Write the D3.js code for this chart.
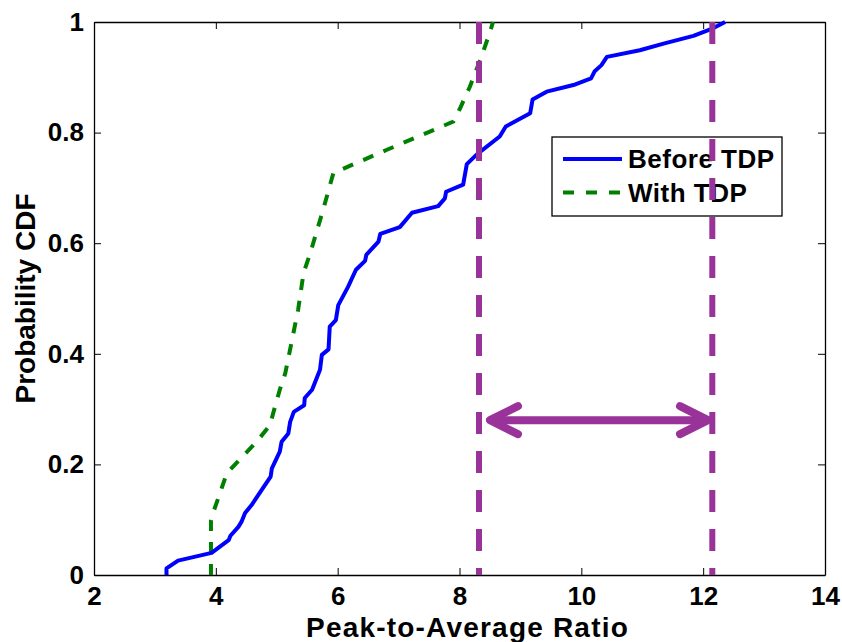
<!DOCTYPE html>
<html>
<head>
<meta charset="utf-8">
<script src="https://cdn.jsdelivr.net/npm/d3@7"></script>
<style>
  body { margin: 0; background: #fff; }
  text { font-family: "Liberation Sans", Arial, Helvetica, sans-serif; font-weight: bold; }
</style>
</head>
<body>
<div id="chart"></div>
<script>
// --- data ---
const beforeX = [3.19, 3.19, 3.38, 3.93, 4.21, 4.24, 4.37, 4.42, 4.48, 4.59, 4.90, 4.92, 5.05, 5.08,
  5.19, 5.22, 5.28, 5.45, 5.46, 5.58, 5.71, 5.74, 5.85, 5.87, 5.97, 6.01, 6.17, 6.30, 6.45, 6.47,
  6.67, 6.70, 7.02, 7.22, 7.65, 7.76, 7.78, 8.06, 8.12, 8.29, 8.66, 8.76, 9.16, 9.20, 9.43, 9.87,
  10.16, 10.22, 10.33, 10.42, 10.96, 11.35, 11.84, 12.17, 12.36];
const beforeY = [0, 0.012, 0.026, 0.040, 0.063, 0.071, 0.087, 0.096, 0.112, 0.127, 0.178, 0.193,
  0.223, 0.241, 0.256, 0.277, 0.295, 0.307, 0.320, 0.335, 0.371, 0.398, 0.408, 0.449, 0.461, 0.488,
  0.521, 0.552, 0.568, 0.579, 0.603, 0.617, 0.629, 0.655, 0.667, 0.681, 0.693, 0.706, 0.743, 0.761,
  0.793, 0.811, 0.835, 0.860, 0.874, 0.886, 0.898, 0.911, 0.922, 0.937, 0.949, 0.961, 0.975, 0.989, 1.0];

const withX = [3.92, 3.92, 3.96, 4.04, 4.18, 4.67, 4.89, 4.94, 5.05, 5.14, 5.35, 5.44, 5.55, 5.76,
  5.93, 6.81, 7.90, 8.01, 8.17, 8.36, 8.50, 8.55];
const withY = [0, 0.099, 0.114, 0.139, 0.184, 0.241, 0.271, 0.292, 0.335, 0.365, 0.479, 0.546,
  0.582, 0.660, 0.727, 0.769, 0.820, 0.844, 0.883, 0.937, 0.982, 1.0];

const markerX = [8.32, 12.15];     // vertical dashed lines
const arrowX = [8.5, 12.08];       // double arrow ends
const arrowY = 0.28;

const xTicks = [2, 4, 6, 8, 10, 12, 14];
const yTicks = [0, 0.2, 0.4, 0.6, 0.8, 1];
const yTickLabels = ["0", "0.2", "0.4", "0.6", "0.8", "1"];
const seriesNames = ["Before TDP", "With TDP"];

// --- layout ---
const W = 842, H = 642;
const mLeft = 94, mRight = 825, mTop = 22, mBottom = 575;

const svg = d3.select("#chart").append("svg")
    .attr("width", W)
    .attr("height", H);

const x = d3.scaleLinear().domain([2, 14]).range([mLeft, mRight]);
const y = d3.scaleLinear().domain([0, 1]).range([mBottom, mTop]);

// --- axes (box with inward ticks on all sides) ---
const fs = 26;
const styleAxis = g => {
    g.select(".domain").attr("stroke", "#000").attr("stroke-width", 1.3);
    g.selectAll(".tick line").attr("stroke", "#000").attr("stroke-width", 1);
    g.selectAll("text").attr("fill", "#000").style("font-size", fs + "px")
        .style("font-family", '"Liberation Sans", Arial, sans-serif').style("font-weight", "bold");
};

svg.append("g")
    .attr("transform", `translate(0,${mBottom})`)
    .call(d3.axisBottom(x).tickValues(xTicks).tickSize(-7).tickPadding(12).tickSizeOuter(0))
    .call(styleAxis);

svg.append("g")
    .attr("transform", `translate(0,${mTop})`)
    .call(d3.axisTop(x).tickValues(xTicks).tickSize(-7).tickFormat("").tickSizeOuter(0))
    .call(styleAxis);

svg.append("g")
    .attr("transform", `translate(${mLeft},0)`)
    .call(d3.axisLeft(y).tickValues(yTicks).tickSize(-7).tickPadding(10).tickSizeOuter(0)
        .tickFormat((d, i) => yTickLabels[i]))
    .call(styleAxis);

svg.append("g")
    .attr("transform", `translate(${mRight},0)`)
    .call(d3.axisRight(y).tickValues(yTicks).tickSize(-7).tickFormat("").tickSizeOuter(0))
    .call(styleAxis);

// --- axis titles ---
svg.append("text")
    .attr("x", (mLeft + mRight) / 2 + 8)
    .attr("y", 637)
    .attr("text-anchor", "middle")
    .style("font-size", "28px")
    .style("letter-spacing", "1.2px")
    .text("Peak-to-Average Ratio");

svg.append("text")
    .attr("transform", `translate(35,${(mTop + mBottom) / 2}) rotate(-90)`)
    .attr("text-anchor", "middle")
    .style("font-size", "28px")
    .text("Probability CDF");

// --- curves ---
const line = d3.line().x(d => x(d[0])).y(d => y(d[1]));

svg.append("path")
    .datum(d3.zip(withX, withY))
    .attr("d", line)
    .attr("fill", "none")
    .attr("stroke", "#008000")
    .attr("stroke-width", 4)
    .attr("stroke-dasharray", "11,11");

svg.append("path")
    .datum(d3.zip(beforeX, beforeY))
    .attr("d", line)
    .attr("fill", "none")
    .attr("stroke", "#0000ff")
    .attr("stroke-width", 4)
    .attr("stroke-linejoin", "round");

// --- legend ---
const lg = svg.append("g").attr("transform", "translate(552,137)");
lg.append("rect")
    .attr("width", 230).attr("height", 79)
    .attr("fill", "#fff").attr("stroke", "#000").attr("stroke-width", 1.3);
const legendRows = [
    { name: seriesNames[0], color: "#0000ff", dash: null },
    { name: seriesNames[1], color: "#008000", dash: "11,12" }
];
legendRows.forEach((r, i) => {
    const ly = 22 + i * 33.5;
    lg.append("line")
        .attr("x1", 11).attr("x2", 70).attr("y1", ly).attr("y2", ly)
        .attr("stroke", r.color).attr("stroke-width", 4)
        .attr("stroke-dasharray", r.dash);
    lg.append("text")
        .attr("x", 76).attr("y", ly + 9)
        .style("font-size", "26px")
        .style("letter-spacing", "0.5px")
        .text(r.name);
});

// --- vertical markers (drawn over the legend, as in the reference) ---
const purple = "#993399";
svg.selectAll(".marker")
    .data(markerX)
    .join("line")
    .attr("class", "marker")
    .attr("x1", d => x(d)).attr("x2", d => x(d))
    .attr("y1", y(1)).attr("y2", y(0))
    .attr("stroke", purple)
    .attr("stroke-width", 6)
    .attr("stroke-dasharray", "22,17");

// --- double arrow ---
const ay = y(arrowY);
const ax0 = x(arrowX[0]), ax1 = x(arrowX[1]);
const arrow = svg.append("g")
    .attr("stroke", purple)
    .attr("stroke-width", 8)
    .attr("stroke-linecap", "round")
    .attr("stroke-linejoin", "round")
    .attr("fill", "none");
arrow.append("line").attr("x1", ax0 + 4).attr("x2", ax1 - 4).attr("y1", ay).attr("y2", ay);
arrow.append("path").attr("d", `M${ax0 + 28},${ay - 14} L${ax0},${ay} L${ax0 + 28},${ay + 14}`);
arrow.append("path").attr("d", `M${ax1 - 28},${ay - 14} L${ax1},${ay} L${ax1 - 28},${ay + 14}`);
</script>
</body>
</html>
